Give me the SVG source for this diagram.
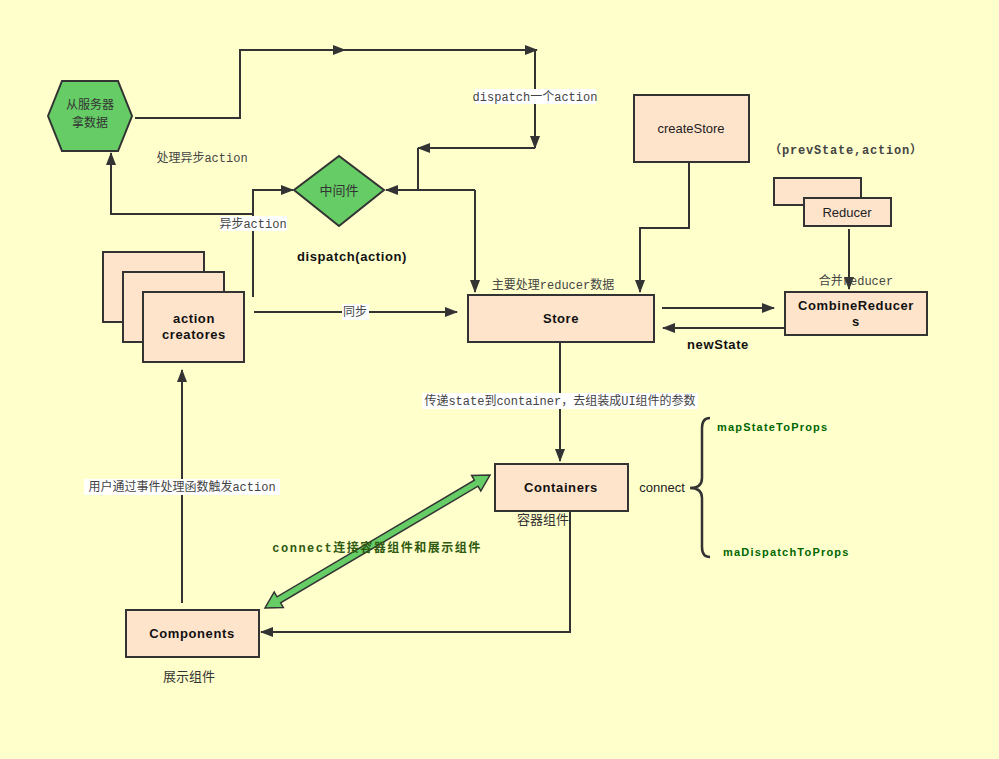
<svg xmlns="http://www.w3.org/2000/svg" width="999" height="759" viewBox="0 0 999 759">
<defs>
<marker id="ah" markerUnits="userSpaceOnUse" markerWidth="13" markerHeight="10" refX="12" refY="5" orient="auto"><path d="M0,0 L13,5 L0,10 z" fill="#333"/></marker>
<style>
.box{fill:#ffe4cc;stroke:#333;stroke-width:2}
.grn{fill:#66cc66;stroke:#333;stroke-width:2}
.ln{fill:none;stroke:#333;stroke-width:2}
.ar{fill:none;stroke:#333;stroke-width:2;marker-end:url(#ah)}
.b{font-family:"Liberation Sans",Arial,sans-serif;font-weight:bold;font-size:13px;fill:#111;text-anchor:middle;letter-spacing:0.6px}
.n{font-family:"Liberation Sans",Arial,sans-serif;font-size:13px;fill:#222;text-anchor:middle}
.cn{font-family:"Liberation Mono","Noto Sans CJK SC",monospace;font-size:12px;fill:#444;text-anchor:middle}
.cj{font-family:"Noto Sans CJK SC",sans-serif;font-size:13px;fill:#333;text-anchor:middle}
.g{font-family:"Liberation Sans",Arial,sans-serif;font-weight:bold;font-size:11px;fill:#006600;letter-spacing:1.2px}
.lb{fill:#fff}
</style>
</defs>
<rect width="999" height="759" fill="#ffffcc"/>

<g id="connectors">
<path class="ar" d="M135,118 L240,118 L240,50 L345,50"/>
<path class="ar" d="M345,50 L537,50"/>
<path class="ar" d="M535,50 L535,148"/>
<path class="ar" d="M535,148 L418,148"/>
<path class="ln" d="M418,148 L418,190"/>
<path class="ar" d="M475,190 L386,190"/>
<path class="ar" d="M475,190 L475,292"/>
<path class="ar" d="M253,297 L253,190 L293,190"/>
<path class="ar" d="M253,214 L111,214 L111,153"/>
<path class="ar" d="M254,312 L457,312"/>
<path class="ar" d="M689,163 L689,228 L640,228 L640,292"/>
<path class="ar" d="M849,229 L849,289"/>
<path class="ar" d="M662,308 L774,308"/>
<path class="ar" d="M784,328 L663,328"/>
<path class="ar" d="M560,343 L560,461"/>
<path class="ar" d="M570,511 L570,632 L261,632"/>
<path class="ar" d="M182,603 L182,370"/>
<path d="M710,418 Q702,418 702,428 L702,478 Q702,488 690,488 Q702,488 702,498 L702,547 Q702,557 710,557" fill="none" stroke="#333" stroke-width="2.5"/>
<polygon points="265,608 283.4,607.6 280.6,602.8 478,486.2 480.8,491 490,475 471.6,475.4 474.4,480.2 277,596.8 274.2,592" fill="#66cc66" stroke="#333" stroke-width="1.5" stroke-linejoin="miter"/>
</g>

<g id="labels">
<rect class="lb" x="475" y="89" width="121" height="15"/>
<text class="cn" x="535" y="101">dispatch一个action</text>
<text class="cn" x="202" y="162">处理异步action</text>
<rect class="lb" x="220" y="216" width="67" height="15"/>
<text class="cn" x="253" y="228">异步action</text>
<text class="b" x="352" y="261">dispatch(action)</text>
<rect class="lb" x="342" y="304" width="27" height="16"/>
<text class="cn" x="355" y="316">同步</text>
<text class="cn" x="553" y="289">主要处理reducer数据</text>
<text class="cn" x="846" y="154" style="letter-spacing:0.8px;font-weight:bold">（prevState,action）</text>
<text class="cn" x="856" y="285">合并reducer</text>
<text class="b" x="718" y="349">newState</text>
<rect class="lb" x="422" y="393" width="276" height="16"/>
<text class="cn" x="560" y="405">传递state到container，去组装成UI组件的参数</text>
<text class="cj" x="543" y="524">容器组件</text>
<text class="n" x="662" y="492">connect</text>
<text class="g" x="717" y="431">mapStateToProps</text>
<text class="g" x="723" y="556">maDispatchToProps</text>
<rect class="lb" x="84" y="479" width="196" height="16"/>
<text class="cn" x="182" y="491">用户通过事件处理函数触发action</text>
<text class="cn" x="377" y="552" style="font-weight:bold;fill:#2f5a10;letter-spacing:1.5px">connect连接容器组件和展示组件</text>
<text class="cj" x="189" y="681">展示组件</text>
</g>

<g id="server">
<polygon class="grn" points="48,116 62,81 118,81 132,116 118,151 62,151"/>
<text class="cj" style="font-size:12px"><tspan x="90" y="109">从服务器</tspan><tspan x="90" y="127">拿数据</tspan></text>
</g>

<g id="middleware">
<polygon class="grn" points="294,190 339,156 384,190 339,226"/>
<text class="cj" x="339" y="195">中间件</text>
</g>

<g id="action-creators">
<rect class="box" x="103" y="252" width="101" height="70"/>
<rect class="box" x="123" y="272" width="101" height="70"/>
<rect class="box" x="143" y="292" width="101" height="70"/>
<text class="b"><tspan x="194" y="323">action</tspan><tspan x="194" y="339">creatores</tspan></text>
</g>

<g id="store">
<rect class="box" x="468" y="295" width="186" height="47"/>
<text class="b" x="561" y="323">Store</text>
</g>

<g id="createStore">
<rect class="box" x="634" y="95" width="115" height="67"/>
<text class="n" x="691" y="133">createStore</text>
</g>

<g id="reducer">
<rect class="box" x="774" y="178" width="87" height="27"/>
<rect class="box" x="804" y="198" width="87" height="28"/>
<text class="n" x="847" y="217">Reducer</text>
</g>

<g id="combineReducers">
<rect class="box" x="785" y="292" width="142" height="43"/>
<text class="b"><tspan x="856" y="310">CombineReducer</tspan><tspan x="856" y="326">s</tspan></text>
</g>

<g id="containers">
<rect class="box" x="495" y="464" width="133" height="47"/>
<text class="b" x="561" y="492">Containers</text>
</g>

<g id="components">
<rect class="box" x="126" y="610" width="133" height="47"/>
<text class="b" x="192" y="638">Components</text>
</g>
</svg>
